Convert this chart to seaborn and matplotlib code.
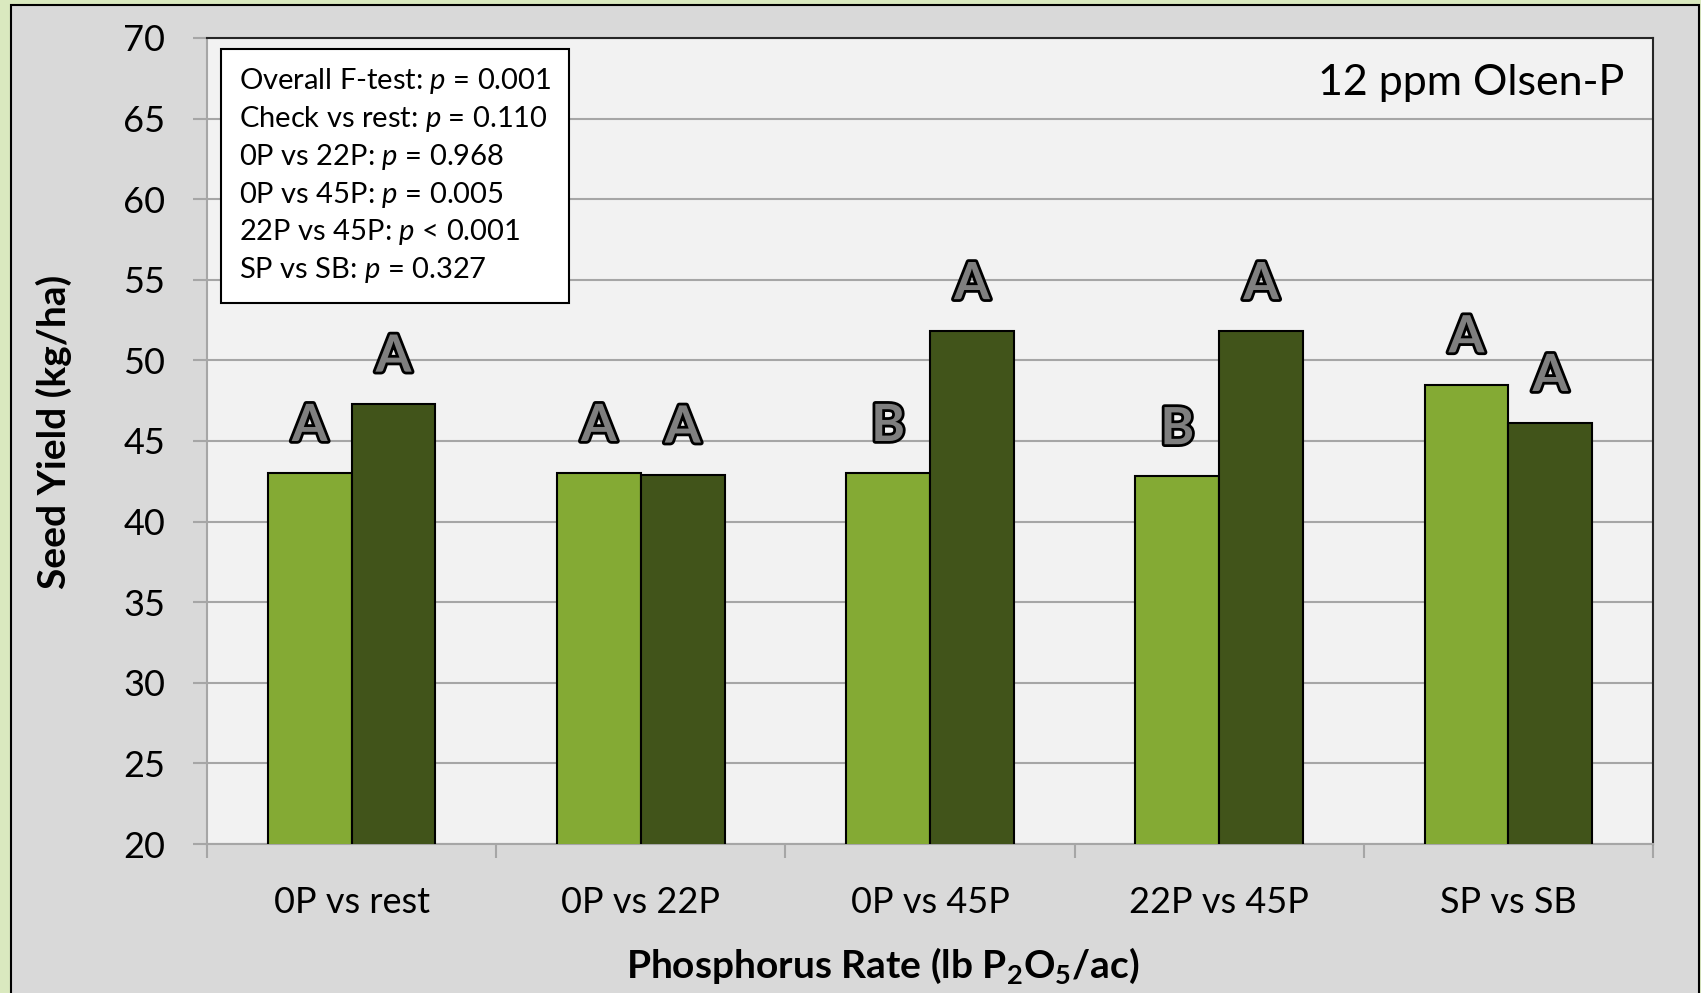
import pandas as pd
import seaborn as sns
import matplotlib.pyplot as plt
import matplotlib.patheffects as pe
from matplotlib.patches import Rectangle

# data
comparisons = ["0P vs rest", "0P vs 22P", "0P vs 45P", "22P vs 45P", "SP vs SB"]
first_yield = [43.0, 43.0, 43.0, 42.8, 48.5]
second_yield = [47.3, 42.9, 51.8, 51.8, 46.1]
first_letters = ["A", "A", "B", "B", "A"]
second_letters = ["A", "A", "A", "A", "A"]
stats_lines = [
    ("Overall F-test: ", "=", "0.001"),
    ("Check vs rest: ", "=", "0.110"),
    ("0P vs 22P: ", "=", "0.968"),
    ("0P vs 45P: ", "=", "0.005"),
    ("22P vs 45P: ", "<", "0.001"),
    ("SP vs SB: ", "=", "0.327"),
]

df = pd.DataFrame({
    "Comparison": comparisons * 2,
    "Group": ["first"] * 5 + ["second"] * 5,
    "Yield": first_yield + second_yield,
})

sns.set_theme(style="white")
plt.rcParams['font.family'] = ['Lato', 'DejaVu Sans']
plt.rcParams['text.color'] = 'black'
plt.rcParams['xtick.color'] = 'black'
plt.rcParams['ytick.color'] = 'black'
plt.rcParams['mathtext.fontset'] = 'custom'
plt.rcParams['mathtext.rm'] = 'Lato'
plt.rcParams['mathtext.it'] = 'Lato:italic'
plt.rcParams['mathtext.bf'] = 'Lato:bold'

fig = plt.figure(figsize=(17.01, 9.93), dpi=100)
fig.patch.set_facecolor("#DAE9BF")
# gray chart area with black frame
fig.patches.append(Rectangle((11 / 1701, -0.05), (1699 - 11) / 1701, 1.05 - 5 / 993,
                             transform=fig.transFigure, facecolor="#D9D9D9",
                             edgecolor="black", linewidth=1.5, zorder=-5))

ax = fig.add_axes([207 / 1701, 1 - 844 / 993, (1653 - 207) / 1701, (844 - 38) / 993])
ax.set_facecolor("#F2F2F2")

sns.barplot(data=df, x="Comparison", y="Yield", hue="Group",
            palette={"first": "#84AA34", "second": "#41541A"}, saturation=1,
            width=0.58, edgecolor="black", linewidth=1.5, ax=ax, zorder=3)
ax.get_legend().remove()

ax.set_ylim(20, 70)
ax.set_xlim(-0.5, 4.5)
ax.set_yticks(range(20, 71, 5))
ax.yaxis.grid(True, color="#A6A6A6", linewidth=1.5, zorder=0)
ax.set_axisbelow(True)

# category ticks on the boundaries, labels in the middle
ax.set_xticks([i - 0.5 for i in range(6)])
ax.set_xticklabels([])
ax.set_xticks(range(5), minor=True)
ax.set_xticklabels(comparisons, minor=True)
ax.tick_params(axis="x", which="major", length=10, width=1.5, color="#A6A6A6", bottom=True)
ax.tick_params(axis="x", which="minor", length=0, pad=30, labelsize=26)
ax.tick_params(axis="y", length=10, width=1.5, color="#A6A6A6", left=True, pad=20, labelsize=26)
ax.set_xlabel("")
ax.set_ylabel("")

for side in ["left", "bottom"]:
    ax.spines[side].set_color("#A6A6A6")
    ax.spines[side].set_linewidth(1.5)
for side in ["top", "right"]:
    ax.spines[side].set_color("#262626")
    ax.spines[side].set_linewidth(1.5)

# significance letters
for container, letters in zip(ax.containers, [first_letters, second_letters]):
    for bar, letter in zip(container, letters):
        ax.text(bar.get_x() + bar.get_width() / 2, bar.get_height() + 2.0, letter,
                ha="center", va="baseline", fontsize=37, fontweight="bold",
                color="#7F7F7F", zorder=5,
                path_effects=[pe.withStroke(linewidth=4, foreground="black")])

# stats box
box_text = "\n".join(f"{a}$p$ {op} {v}" for a, op, v in stats_lines)
ax.text(0.022, 0.965, box_text, transform=ax.transAxes, ha="left", va="top",
        fontsize=21, linespacing=1.34, zorder=6,
        bbox=dict(boxstyle="square,pad=0.6", facecolor="white", edgecolor="black", linewidth=1.5))

ax.text(0.98, 0.968, "12 ppm Olsen-P", transform=ax.transAxes, ha="right", va="top",
        fontsize=31, zorder=6)

fig.text(54 / 1701, 1 - 432 / 993, "Seed Yield (kg/ha)", rotation=90,
         ha="center", va="center", fontsize=28, fontweight="bold")
fig.text(883 / 1701, 1 - 966 / 993, r"Phosphorus Rate (lb P$_\mathbf{2}$O$_\mathbf{5}$/ac)",
         ha="center", va="center", fontsize=28, fontweight="bold")

plt.savefig("out.png", dpi=100, facecolor=fig.get_facecolor())
